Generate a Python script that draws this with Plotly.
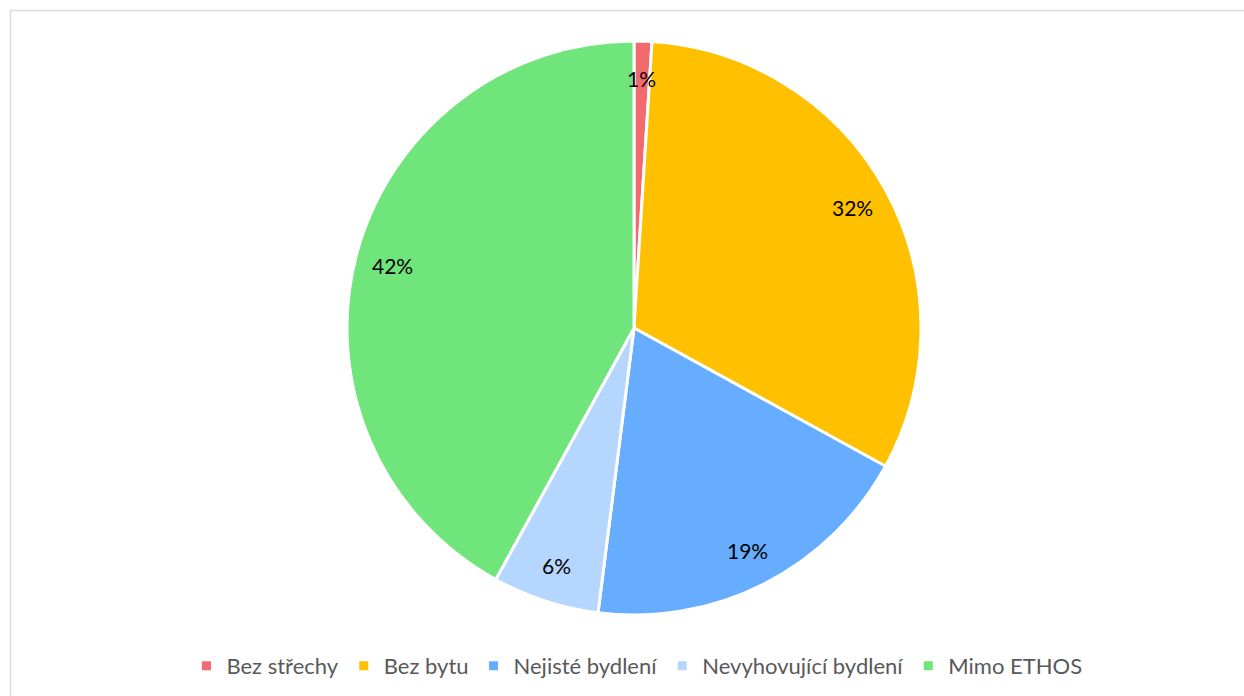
import math
import plotly.graph_objects as go

categories = ["Bez střechy", "Bez bytu", "Nejisté bydlení", "Nevyhovující bydlení", "Mimo ETHOS"]
values = [1, 32, 19, 6, 42]
colors = ["#F06A6E", "#FFC000", "#66ACFF", "#B5D6FF", "#70E57C"]

W, H = 1244, 696
cx, cy, R = 634, 328, 287
dom_x = [(cx - R) / W, (cx + R) / W]
dom_y = [1 - (cy + R) / H, 1 - (cy - R) / H]
FONT = "Lato, Open Sans, sans-serif"

fig = go.Figure(go.Pie(
    labels=categories,
    values=values,
    marker=dict(colors=colors, line=dict(color="white", width=3)),
    sort=False,
    direction="clockwise",
    rotation=0,
    textinfo="none",
    hoverinfo="label+percent",
    domain=dict(x=dom_x, y=dom_y),
))

total = sum(values)
cum = 0
annotations = []
for v in values:
    mid = (cum + v / 2) / total * 2 * math.pi
    cum += v
    rr = 0.87 * R
    px = (cx + rr * math.sin(mid)) / W
    py = 1 - (cy - rr * math.cos(mid)) / H
    annotations.append(dict(
        x=px, y=py, xref="paper", yref="paper",
        xanchor="center", yanchor="middle",
        text=f"{round(v / total * 100)}%", showarrow=False,
        font=dict(family=FONT, size=21, color="#000000"),
    ))

fig.update_layout(
    width=W, height=H,
    margin=dict(l=0, r=0, t=0, b=0),
    paper_bgcolor="white",
    plot_bgcolor="white",
    font=dict(family=FONT),
    annotations=annotations,
    legend=dict(
        orientation="h",
        x=0.512, xanchor="center",
        y=1 - 666 / H, yanchor="middle",
        font=dict(size=22, color="#595959"),
        itemwidth=30,
        traceorder="normal",
    ),
    shapes=[dict(
        type="rect", xref="paper", yref="paper",
        x0=10.5 / W, x1=1.05, y0=-0.05, y1=1 - 10.5 / H,
        line=dict(color="#D9D9D9", width=1.5),
        fillcolor="rgba(0,0,0,0)", layer="below",
    )],
)

fig.write_html("out.html", config={"displayModeBar": False})

with open("out.html", encoding="utf-8") as f:
    html = f.read()
html = html.replace("<body>", '<body style="margin:0;padding:0;">', 1)
html = html.replace("<head>", "<head><style>html,body{margin:0;padding:0;overflow:hidden;}</style>", 1)
with open("out.html", "w", encoding="utf-8") as f:
    f.write(html)
